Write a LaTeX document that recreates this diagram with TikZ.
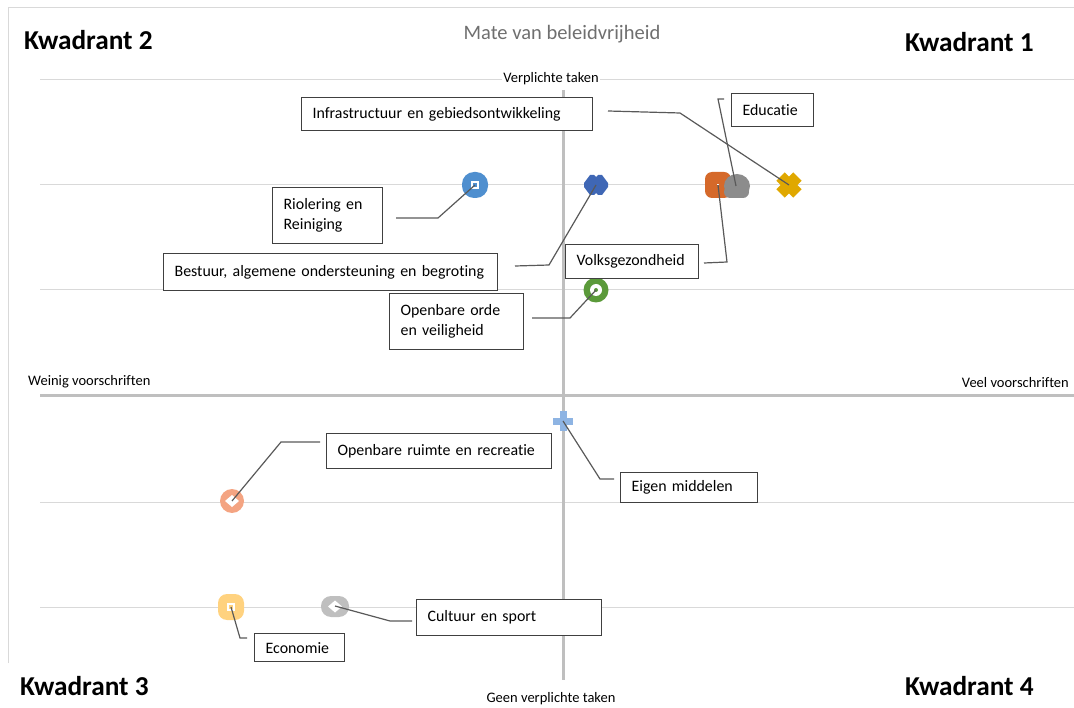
\documentclass[tikz,border=0pt]{standalone}
\usepackage{fontspec}
\setmainfont{Carlito}[Ligatures=NoCommon]
\usetikzlibrary{calc}
\definecolor{gridc}{HTML}{D9D9D9}
\definecolor{axisc}{HTML}{BFBFBF}
\definecolor{framec}{HTML}{D9D9D9}
\definecolor{boxc}{HTML}{404040}
\definecolor{leadc}{HTML}{595959}
\definecolor{titlec}{HTML}{6F6F6F}
\definecolor{cRiol}{HTML}{4F8FCF}
\definecolor{cBest}{HTML}{3F67B5}
\definecolor{cVolk}{HTML}{D5692A}
\definecolor{cEduc}{HTML}{8C8C8C}
\definecolor{cInfr}{HTML}{E0A800}
\definecolor{cOrde}{HTML}{5B9A3A}
\definecolor{cEig}{HTML}{8EB4E3}
\definecolor{cRuim}{HTML}{F4A482}
\definecolor{cEcon}{HTML}{FFD27F}
\definecolor{cCult}{HTML}{BFBFBF}
\begin{document}
\begin{tikzpicture}[x=1pt,y=-1pt,
  box/.style={draw=boxc, line width=1.2pt, fill=white, inner xsep=11pt, inner ysep=0pt,
    align=left, anchor=north west, font=\fontsize{15.9}{20}\selectfont},
  lead/.style={draw=leadc, line width=1.2pt},
  quad/.style={font=\fontsize{27.3}{30}\selectfont\bfseries, inner sep=0pt},
  axlab/.style={font=\fontsize{14.5}{16}\selectfont, inner sep=1pt},
  mk/.style={inner sep=0pt, minimum size=2pt}
]
\useasboundingbox (0,0) rectangle (1074,708);
% frame
\draw[framec, line width=1pt] (8,663) -- (8,8) -- (1074,8);
% grid
\foreach \yy in {80,185,290,502,607} \draw[gridc, line width=1pt] (40,\yy) -- (1074,\yy);
% axes
\draw[axisc, line width=3pt] (563,90) -- (563,680);
\draw[axisc, line width=3pt] (40,396) -- (1074,396);
% axis labels
\node[axlab, fill=white] (tVer) at (551,79) {Verplichte taken};
\node[axlab] (tGeen) at (551,699) {Geen verplichte taken};
\node[axlab, anchor=west] (tWein) at (27,382) {Weinig voorschriften};
\node[axlab, anchor=east] (tVeel) at (1070,383) {Veel voorschriften};
\node[font=\fontsize{20.5}{22}\selectfont, text=titlec, inner sep=0pt] (tMate) at (562,34) {Mate van beleidvrijheid};
\node[quad, anchor=west] (q2) at (24,40) {Kwadrant 2};
\node[quad, anchor=west] (q1) at (905,42) {Kwadrant 1};
\node[quad, anchor=west] (q3) at (20,686) {Kwadrant 3};
\node[quad, anchor=west] (q4) at (905,686) {Kwadrant 4};

% markers
\node[mk] (mRiol) at (475,185) {};
\fill[cRiol, rounded corners=12pt] (462,172) rectangle (488,198);
\draw[white, line width=1.3pt] (472,182) rectangle (478,188);

\node[mk] (mBest) at (596,185) {};
\fill[cBest] (596,185) ++(-12,-2) -- ++(6,-8) -- ++(4,0) -- ++(2,2) -- ++(2,-2) -- ++(4,0) -- ++(6,8)
  -- ++(0,4) -- ++(-6,8) -- ++(-4,0) -- ++(-2,-2) -- ++(-2,2) -- ++(-4,0) -- ++(-6,-8) -- cycle;

\node[mk] (mVolk) at (718,185) {};
\fill[cVolk, rounded corners=7pt] (705,172) rectangle (731,198);
\fill[white] (717,184) rectangle (718.5,185.5);

\node[mk] (mEduc) at (736,186) {};
\fill[cEduc] (737,186) ellipse [x radius=13pt, y radius=12pt];
\fill[cEduc, rounded corners=6pt] (724,186) rectangle (749,198);

\node[mk] (mInfr) at (789,185) {};
\begin{scope}[shift={(789,185)}]
\fill[cInfr, rotate=45] (-12,-6) rectangle (12,6);
\fill[cInfr, rotate=-45] (-12,-6) rectangle (12,6);
\end{scope}

\node[mk] (mOrde) at (596,290) {};
\fill[cOrde] (596,290) circle [radius=12.5pt];
\fill[white] (596,290) circle [radius=6pt];
\fill[cOrde] (596,290) circle [radius=2pt];

\node[mk] (mEig) at (563,421) {};
\fill[cEig] (553,418) rectangle (573,425);
\fill[cEig] (559.5,411) rectangle (566.5,431);

\node[mk] (mRuim) at (232,501) {};
\fill[cRuim] (232,501) circle [radius=12pt];
\fill[white] (232,501) ++(-7,0) -- ++(7,-6) -- ++(7,6) -- ++(-7,6) -- cycle;

\node[mk] (mEcon) at (231,607) {};
\fill[cEcon, rounded corners=9pt] (218,594) rectangle (244,620);
\draw[white, line width=1.3pt] (228,604) rectangle (234,610);

\node[mk] (mCult) at (335,606) {};
\fill[cCult, rounded corners=10pt] (321,596) rectangle (349,617);
\fill[white] (335,606.5) ++(-7,0) -- ++(7,-6) -- ++(7,6) -- ++(-7,6) -- cycle;

% boxes
\node[box, text width=269pt, minimum height=33pt] (bInfr) at (301,97) {Infrastructuur en gebiedsontwikkeling};
\node[box, text width=60pt, minimum height=33pt] (bEduc) at (731,93) {Educatie};
\node[box, text width=88pt, minimum height=56pt] (bRiol) at (272,187) {Riolering en\\Reiniging};
\node[box, text width=312pt, minimum height=37pt] (bBest) at (163,253) {Bestuur, algemene ondersteuning en begroting};
\node[box, text width=111pt, minimum height=34pt] (bVolk) at (565,244) {Volksgezondheid};
\node[box, text width=112pt, minimum height=56pt] (bOrde) at (389,293) {Openbare orde\\en veiligheid};
\node[box, text width=203pt, minimum height=35pt] (bRuim) at (326,433) {Openbare ruimte en recreatie};
\node[box, text width=115pt, minimum height=30pt] (bEig) at (620,472) {Eigen middelen};
\node[box, text width=163pt, minimum height=36pt] (bCult) at (416,599) {Cultuur en sport};
\node[box, text width=68pt, minimum height=28pt] (bEcon) at (254,633) {Economie};

% leader free ends and bends
\coordinate (fInfr) at (608,111);
\coordinate (kInfr) at (680,113);
\coordinate (fEduc) at (724,99);
\coordinate (kEduc) at (718,99);
\coordinate (fRiol) at (396,218);
\coordinate (kRiol) at (438,218);
\coordinate (fBest) at (515,266);
\coordinate (kBest) at (549,265);
\coordinate (fVolk) at (704,263);
\coordinate (kVolk) at (727,262);
\coordinate (fOrde) at (532,318);
\coordinate (kOrde) at (570,318);
\coordinate (fRuim) at (320,442);
\coordinate (kRuim) at (281,442);
\coordinate (fEig) at (614,479);
\coordinate (kEig) at (600,479);
\coordinate (fCult) at (412,621);
\coordinate (kCult) at (390,621);
\coordinate (fEcon) at (247,638);
\coordinate (kEcon) at (240,638);

\draw[lead] (fInfr) -- (kInfr) -- (mInfr.center);
\draw[lead] (fEduc) -- (kEduc) -- (mEduc.center);
\draw[lead] (fRiol) -- (kRiol) -- (mRiol.center);
\draw[lead] (fBest) -- (kBest) -- (mBest.center);
\draw[lead] (fVolk) -- (kVolk) -- (mVolk.center);
\draw[lead] (fOrde) -- (kOrde) -- (mOrde.center);
\draw[lead] (fRuim) -- (kRuim) -- (mRuim.center);
\draw[lead] (fEig) -- (kEig) -- (mEig.center);
\draw[lead] (fCult) -- (kCult) -- (mCult.center);
\draw[lead] (fEcon) -- (kEcon) -- (mEcon.center);
\end{tikzpicture}
\end{document}
